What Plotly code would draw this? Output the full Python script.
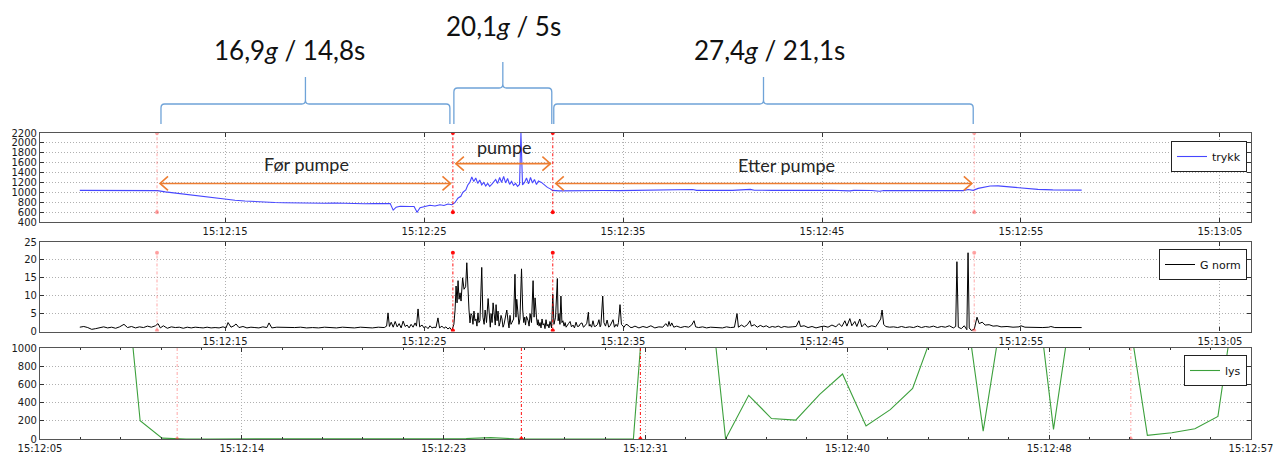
import plotly.graph_objects as go

# ---------------- data (time = seconds after 15:12:00) ----------------
TRYKK = [
    (7.7, 1040), (8.7, 1042), (9.7, 1043), (10.7, 1045), (11.3, 1040), (11.6, 1035),
    (12.0, 1010), (12.5, 985), (13.0, 960), (13.5, 935), (14.0, 905), (14.5, 880),
    (15.0, 860), (15.5, 840), (16.0, 825), (16.5, 810), (17.0, 800), (17.5, 795),
    (18.0, 790), (18.5, 785), (19.0, 782), (19.5, 790), (20.0, 780), (20.5, 785),
    (21.0, 778), (21.5, 782), (22.0, 770), (22.5, 775), (23.0, 768), (23.3, 772),
    (23.45, 640), (23.6, 700), (23.8, 720), (24.05, 710), (24.3, 715), (24.5, 712),
    (24.65, 597), (24.8, 690), (25.05, 720), (25.3, 740), (25.55, 725), (25.8, 750),
    (26.0, 735), (26.2, 765), (26.4, 750), (26.55, 790), (26.7, 880), (26.85, 920),
    (26.95, 1000), (27.1, 1050), (27.2, 1150), (27.3, 1200), (27.4, 1310), (27.5, 1220),
    (27.6, 1290), (27.7, 1180), (27.8, 1250), (27.9, 1150), (28.0, 1200), (28.1, 1130),
    (28.2, 1180), (28.3, 1120), (28.4, 1160), (28.5, 1210), (28.6, 1260), (28.7, 1180),
    (28.8, 1300), (28.9, 1200), (29.0, 1320), (29.1, 1190), (29.2, 1280), (29.3, 1160),
    (29.4, 1220), (29.5, 1140), (29.6, 1180), (29.7, 1120), (29.8, 1160), (29.87, 2200),
    (29.95, 1150), (30.05, 1200), (30.15, 1290), (30.25, 1170), (30.35, 1300), (30.45, 1190),
    (30.55, 1260), (30.65, 1160), (30.75, 1230), (30.9, 1200), (31.05, 1150), (31.2, 1100),
    (31.35, 1070), (31.45, 1040), (31.8, 1030), (32.5, 1035), (33.3, 1032), (34.0, 1038),
    (34.8, 1035), (35.5, 1040), (36.3, 1037), (37.0, 1040), (37.8, 1042), (38.5, 1058),
    (38.7, 1040), (39.5, 1042), (40.5, 1040), (41.4, 1060), (41.6, 1042), (42.5, 1040),
    (43.5, 1042), (44.5, 1040), (45.5, 1041), (46.4, 1030), (46.6, 1040), (47.5, 1038),
    (47.9, 1022), (48.1, 1038), (49.0, 1040), (50.0, 1042), (51.0, 1040), (51.8, 1045),
    (52.1, 1035), (52.35, 1058), (52.6, 1040), (52.85, 1080), (53.15, 1110), (53.45, 1128),
    (53.85, 1130), (54.35, 1110), (54.85, 1090), (55.35, 1072), (55.85, 1060), (56.6, 1050),
    (57.35, 1045), (58.05, 1045),
]

GNORM = [
    (7.7, 1.2), (7.9, 1.4), (8.1, 1.1), (8.3, 0.6), (8.5, 0.8), (8.7, 1.0), (8.9, 1.3),
    (9.1, 1.0), (9.3, 1.2), (9.5, 0.9), (9.7, 1.3), (9.92, 2.0), (10.1, 1.1), (10.3, 1.4),
    (10.5, 1.0), (10.7, 1.3), (10.9, 1.1), (11.1, 1.5), (11.3, 1.2), (11.5, 1.6), (11.63, 2.2),
    (11.75, 1.0), (11.9, 1.6), (12.1, 0.9), (12.3, 1.3), (12.5, 1.1), (12.7, 1.2), (12.9, 0.9),
    (13.1, 1.2), (13.3, 1.0), (13.5, 1.2), (13.7, 1.1), (13.9, 1.0), (14.1, 1.2), (14.3, 1.0),
    (14.5, 1.1), (14.7, 1.0), (14.9, 1.3), (15.05, 1.0), (15.15, 2.5), (15.3, 1.2), (15.45, 1.6),
    (15.55, 2.1), (15.7, 1.1), (15.9, 1.4), (16.1, 1.0), (16.3, 1.2), (16.5, 1.1), (16.7, 1.0),
    (16.9, 1.3), (17.1, 1.1), (17.21, 2.4), (17.35, 1.0), (17.6, 1.2), (17.9, 1.1), (18.2, 1.0),
    (18.5, 1.1), (18.8, 1.2), (19.1, 1.0), (19.4, 1.1), (19.7, 1.0), (20.0, 1.2), (20.3, 1.1),
    (20.6, 1.0), (20.9, 1.2), (21.2, 1.1), (21.5, 1.0), (21.8, 1.2), (22.1, 1.1), (22.4, 1.0),
    (22.7, 1.2), (23.0, 1.1),
    (23.12, 1.5), (23.19, 5.2), (23.26, 1.4), (23.35, 2.6), (23.45, 1.2), (23.55, 2.8),
    (23.65, 1.3), (23.75, 2.2), (23.85, 1.0), (23.95, 2.9), (24.05, 1.4), (24.15, 1.8),
    (24.25, 1.0), (24.35, 2.0), (24.45, 1.2), (24.55, 2.4), (24.62, 1.5), (24.7, 6.3),
    (24.78, 1.3), (24.9, 1.8), (25.0, 1.0), (25.1, 1.4), (25.2, 0.8), (25.3, 1.6), (25.4, 1.0),
    (25.5, 1.2), (25.6, 1.1), (25.7, 3.8), (25.78, 1.0), (25.9, 1.5), (26.0, 0.9), (26.1, 1.3),
    (26.2, 0.7), (26.3, 1.1), (26.4, 0.3), (26.5, 2.0),
    (26.56, 6.0), (26.61, 12.7), (26.66, 8.0), (26.71, 14.2), (26.76, 9.0), (26.81, 10.8),
    (26.86, 8.5), (26.94, 15.0), (27.01, 11.8), (27.09, 12.5), (27.15, 19.2), (27.21, 9.0),
    (27.26, 6.0), (27.31, 2.4), (27.36, 5.0), (27.41, 4.5), (27.46, 2.0), (27.51, 5.7),
    (27.56, 3.0), (27.61, 3.5), (27.66, 1.5), (27.71, 5.2), (27.76, 2.5), (27.81, 3.0),
    (27.9, 17.9), (27.96, 4.0), (28.02, 2.0), (28.07, 6.0), (28.14, 2.5), (28.22, 9.2),
    (28.29, 3.0), (28.33, 1.2), (28.37, 5.0), (28.42, 2.5), (28.47, 8.0), (28.54, 4.0),
    (28.58, 1.8), (28.62, 7.5), (28.67, 3.0), (28.72, 5.7), (28.77, 1.5), (28.82, 2.5),
    (28.87, 4.5), (28.92, 3.5), (28.97, 1.2), (29.02, 2.0), (29.08, 3.8), (29.16, 6.0),
    (29.22, 3.0), (29.27, 1.0), (29.32, 4.5), (29.37, 2.0), (29.42, 2.5), (29.5, 3.5),
    (29.57, 16.0), (29.62, 4.0), (29.66, 9.0), (29.72, 5.0), (29.77, 2.0), (29.82, 3.5),
    (29.9, 17.5), (29.96, 6.0), (30.01, 2.5), (30.06, 4.0), (30.1, 1.8), (30.15, 4.2),
    (30.23, 3.0), (30.28, 1.5), (30.33, 5.0), (30.4, 2.5), (30.48, 14.2), (30.53, 4.0),
    (30.58, 9.4), (30.65, 4.0), (30.7, 1.8), (30.73, 3.3), (30.78, 1.5), (30.83, 2.5),
    (30.88, 1.0), (30.93, 3.5), (30.98, 1.8), (31.03, 2.2), (31.08, 0.8), (31.13, 3.3),
    (31.18, 1.5), (31.23, 2.0), (31.28, 1.0), (31.33, 2.8), (31.41, 1.0), (31.47, 10.4),
    (31.53, 2.0), (31.61, 4.0), (31.7, 14.8), (31.74, 3.0), (31.78, 5.0), (31.83, 2.0),
    (31.88, 9.9), (31.93, 2.5), (31.98, 3.0), (32.04, 1.5), (32.09, 2.5), (32.14, 1.2),
    (32.19, 1.5), (32.26, 2.2), (32.34, 2.8), (32.41, 1.3), (32.49, 1.8), (32.56, 1.0),
    (32.64, 2.6), (32.71, 1.4), (32.79, 1.5), (32.86, 2.2), (32.94, 2.4), (33.01, 1.2),
    (33.09, 1.6), (33.18, 2.3), (33.26, 5.4), (33.3, 1.5), (33.34, 2.0), (33.42, 1.2),
    (33.49, 3.0), (33.56, 1.4), (33.64, 1.5), (33.72, 2.0), (33.79, 3.3), (33.85, 1.3),
    (33.89, 1.8), (33.98, 9.9), (34.04, 2.5), (34.12, 1.5), (34.2, 3.2), (34.28, 1.2),
    (34.35, 1.6), (34.42, 2.4), (34.5, 3.3), (34.57, 1.2), (34.65, 2.0), (34.72, 1.4),
    (34.77, 2.5), (34.85, 7.5), (34.92, 2.0), (35.0, 1.5), (35.05, 1.2), (35.15, 2.0),
    (35.25, 1.8), (35.35, 1.2), (35.45, 1.1),
    (35.6, 1.5), (35.8, 1.0), (36.0, 1.4), (36.2, 1.1), (36.4, 1.6), (36.6, 1.0), (36.8, 1.3),
    (37.0, 1.2), (37.15, 2.2), (37.25, 1.4), (37.31, 2.8), (37.38, 1.5), (37.45, 2.4),
    (37.55, 1.2), (37.7, 1.5), (37.9, 1.1), (38.1, 1.4), (38.3, 1.2), (38.45, 1.8), (38.57, 3.0),
    (38.65, 1.3), (38.8, 1.1), (39.0, 1.3), (39.2, 1.0), (39.4, 1.2), (39.6, 1.1), (39.8, 1.2),
    (40.0, 1.0), (40.2, 1.3), (40.4, 1.1), (40.6, 1.2), (40.73, 5.0), (40.8, 1.2), (40.95, 1.8),
    (41.1, 1.3), (41.25, 1.9), (41.38, 3.0), (41.45, 1.5), (41.6, 1.9), (41.75, 1.2), (41.9, 1.7),
    (42.05, 1.3), (42.2, 1.6), (42.35, 1.1), (42.5, 1.4), (42.65, 1.2), (42.8, 1.5), (42.95, 1.1),
    (43.1, 1.4), (43.3, 1.2), (43.5, 1.3), (43.7, 1.4), (43.84, 3.0), (43.92, 1.4), (44.1, 1.6),
    (44.3, 1.1), (44.5, 1.4), (44.7, 1.0), (44.9, 1.3), (45.1, 1.5), (45.3, 1.2), (45.5, 1.8),
    (45.7, 1.3), (45.85, 2.2), (46.0, 1.4), (46.15, 3.0), (46.25, 1.5), (46.4, 3.6), (46.5, 1.6),
    (46.65, 2.8), (46.75, 1.4), (46.9, 3.5), (47.0, 1.3), (47.15, 2.2), (47.3, 1.2), (47.5, 1.6),
    (47.7, 1.3), (47.85, 2.5), (47.95, 3.5), (48.02, 6.0), (48.1, 2.0), (48.2, 1.4), (48.4, 1.2),
    (48.6, 1.3), (48.8, 1.1), (49.0, 1.4), (49.2, 1.1), (49.4, 1.3), (49.6, 1.1), (49.8, 1.5),
    (50.0, 1.1), (50.2, 1.4), (50.4, 1.2), (50.6, 1.5), (50.8, 1.1), (51.0, 1.4), (51.2, 1.2),
    (51.4, 1.6), (51.6, 1.0), (51.72, 1.4), (51.78, 19.5), (51.85, 1.2), (52.0, 0.8),
    (52.15, 1.6), (52.28, 0.5), (52.34, 22.0), (52.4, 1.0), (52.5, 0.3), (52.65, 0.6),
    (52.79, 4.0), (52.9, 2.2), (53.05, 2.6), (53.2, 1.8), (53.4, 1.9), (53.6, 1.5), (53.8, 1.6),
    (54.0, 1.3), (54.3, 1.4), (54.6, 1.2), (54.9, 1.3), (55.0, 1.6), (55.2, 1.2), (55.5, 1.1),
    (55.8, 1.2), (56.1, 1.1), (56.4, 1.2), (56.5, 1.4), (56.7, 1.1), (57.0, 1.1), (57.4, 1.1),
    (57.8, 1.1), (58.05, 1.1),
]

LYS = [
    (6.3, 2500), (7.31, 2700), (8.31, 2800), (9.30, 200), (10.24, 10), (11.27, 0), (12.3, 0),
    (13.3, 0), (14.3, 0), (15.3, 0), (16.3, 0), (17.3, 0), (18.3, 0), (19.3, 0), (20.3, 0),
    (21.3, 0), (22.3, 0), (23.3, 5), (24.34, 15), (25.35, 3), (26.4, 0), (27.4, 0), (28.4, 0),
    (29.45, 0), (30.48, 0), (31.47, 3300), (32.45, 3000), (33.41, 2500), (34.44, 0),
    (35.43, 480), (36.41, 225), (37.45, 207), (38.48, 490), (39.46, 714), (40.47, 143),
    (41.51, 323), (42.47, 556), (43.5, 1280), (44.49, 1950), (45.5, 86), (46.51, 1713),
    (47.5, 2288), (48.52, 105), (49.52, 1843), (50.5, 2000), (51.54, 1711), (52.55, 40),
    (53.6, 68), (54.59, 113), (55.58, 248), (56.57, 1978),
]

EVENTS = [11.58, 26.45, 31.47, 52.65]          # phase boundaries, top two axes
EVENTS_LYS = [10.89, 25.67, 30.78, 51.84]      # same boundaries on the lys axis
EVENT_STRONG = [False, True, True, False]

TOP_TICKS = [15, 25, 35, 45, 55, 65]
TOP_TICKTEXT = ["15:12:15", "15:12:25", "15:12:35", "15:12:45", "15:12:55", "15:13:05"]
LYS_TICKS = [5, 13.667, 22.333, 31, 39.667, 48.333, 57]
LYS_TICKTEXT = ["15:12:05", "15:12:14", "15:12:23", "15:12:31", "15:12:40", "15:12:48", "15:12:57"]

PHASE_LABELS = ["Før pumpe", "pumpe", "Etter pumpe"]
PHASE_LABEL_POS = [(19.1, 1580), (29.05, 1920), (43.2, 1560)]
PHASE_ARROW_Y = [1180, 1580, 1180]
SUMMARY_LABELS = ["16,9<i>g</i> / 14,8s", "20,1<i>g</i> / 5s", "27,4<i>g</i> / 21,1s"]

# ---------------- layout helpers ----------------
W, H = 1275, 453


def py(p):
    return 1 - p / H


X_DOM = [40 / W, 1251 / W]
TICKFONT = dict(family="DejaVu Sans", size=10, color="#1a1a1a")

fig = go.Figure()

tt, tv = zip(*TRYKK)
gt, gv = zip(*GNORM)
lt, lv = zip(*LYS)

fig.add_trace(go.Scatter(x=tt, y=tv, mode="lines", name="trykk",
                         line=dict(color="rgb(70,70,255)", width=1.1),
                         xaxis="x", yaxis="y", legend="legend"))
fig.add_trace(go.Scatter(x=gt, y=gv, mode="lines", name="G norm",
                         line=dict(color="black", width=1),
                         xaxis="x2", yaxis="y2", legend="legend2"))
fig.add_trace(go.Scatter(x=lt, y=lv, mode="lines", name="lys",
                         line=dict(color="rgb(60,160,60)", width=1.1),
                         xaxis="x3", yaxis="y3", legend="legend3"))


def event_lines(evs, ymin, ymax, xa, ya):
    for e, strong in zip(evs, EVENT_STRONG):
        col = "rgba(255,0,0,0.95)" if strong else "rgba(255,60,60,0.45)"
        fig.add_trace(go.Scatter(
            x=[e, e], y=[ymin, ymax], mode="lines+markers", showlegend=False,
            line=dict(color=col, width=1, dash="3px,2px,1px,2px"),
            marker=dict(color=col, size=4), xaxis=xa, yaxis=ya, hoverinfo="skip"))


event_lines(EVENTS, min(tv), max(tv), "x", "y")
event_lines(EVENTS, min(gv), max(gv), "x2", "y2")
event_lines(EVENTS_LYS, min(lv), max(lv), "x3", "y3")

axis_common = dict(showline=True, mirror="allticks", linecolor="#555", linewidth=1.2,
                   ticks="inside", ticklen=4, tickcolor="#333", tickfont=TICKFONT,
                   showgrid=True, gridcolor="#b0b0b0", griddash="1px,2px", gridwidth=1,
                   zeroline=False, automargin=False)

fig.update_layout(
    width=W, height=H, margin=dict(l=0, r=0, t=0, b=0, autoexpand=False),
    paper_bgcolor="white", plot_bgcolor="white",
    xaxis=dict(domain=X_DOM, anchor="y", range=[5.70, 66.56], tickmode="array",
               tickvals=TOP_TICKS, ticktext=TOP_TICKTEXT, **axis_common),
    yaxis=dict(domain=[py(222), py(133)], anchor="x", range=[400, 2200], tickmode="array",
               tickvals=list(range(400, 2201, 200)), **axis_common),
    xaxis2=dict(domain=X_DOM, anchor="y2", range=[5.70, 66.56], tickmode="array",
                tickvals=TOP_TICKS, ticktext=TOP_TICKTEXT, **axis_common),
    yaxis2=dict(domain=[py(331.5), py(242)], anchor="x2", range=[0, 25], tickmode="array",
                tickvals=[0, 5, 10, 15, 20, 25], **axis_common),
    xaxis3=dict(domain=X_DOM, anchor="y3", range=[5, 57], tickmode="array",
                tickvals=LYS_TICKS, ticktext=LYS_TICKTEXT,
                minor=dict(ticks="inside", ticklen=2, tickcolor="#333", tick0=5,
                           dtick=52 / 30, showgrid=False),
                **axis_common),
    yaxis3=dict(domain=[py(439), py(348)], anchor="x3", range=[0, 1000], tickmode="array",
                tickvals=[0, 200, 400, 600, 800, 1000], **axis_common),
    showlegend=True,
)

legend_common = dict(xanchor="right", yanchor="top", bgcolor="white", bordercolor="#222",
                     borderwidth=1, font=dict(family="DejaVu Sans", size=11, color="#111"),
                     itemwidth=30, tracegroupgap=0)
fig.update_layout(
    legend=dict(x=1247 / W, y=py(141), **legend_common),
    legend2=dict(x=1247 / W, y=py(249), **legend_common),
    legend3=dict(x=1247 / W, y=py(355), **legend_common),
)

ORANGE = "#ED7D31"
shapes = []
annotations = []

# phase arrows inside the pressure panel
for i in range(3):
    a0 = EVENTS[i] + 0.15
    a1 = EVENTS[i + 1] - 0.12
    ya = PHASE_ARROW_Y[i]
    shapes.append(dict(type="line", xref="x", yref="y", x0=a0, x1=a1, y0=ya, y1=ya,
                       line=dict(color=ORANGE, width=1.6)))
    shapes.append(dict(type="path", xref="x", yref="y", xsizemode="pixel", ysizemode="pixel",
                       xanchor=a0, yanchor=ya, path="M 8,7 L 0,0 L 8,-7",
                       line=dict(color=ORANGE, width=1.6)))
    shapes.append(dict(type="path", xref="x", yref="y", xsizemode="pixel", ysizemode="pixel",
                       xanchor=a1, yanchor=ya, path="M -8,7 L 0,0 L -8,-7",
                       line=dict(color=ORANGE, width=1.6)))
    lx, ly = PHASE_LABEL_POS[i]
    annotations.append(dict(xref="x", yref="y", x=lx, y=ly, text=PHASE_LABELS[i],
                            xanchor="center", yanchor="middle", showarrow=False,
                            font=dict(family="Lato", size=18, color="#262626")))

# curly braces above the chart
BRACE_Y = [(104, 77), (88, 62), (104, 77)]
SUMMARY_Y = [50, 26, 50]
SUMMARY_X = [289, 503, 769]
for i in range(3):
    x0 = EVENTS[i] + (0.2 if i == 0 else 0.05)
    x1 = EVENTS[i + 1] - (0.15 if i == 0 else 0.05)
    xm = (x0 + x1) / 2
    rx = 0.18
    r = 4 / H
    yb = py(BRACE_Y[i][0])
    yt = py(BRACE_Y[i][1])
    ye = py(124)
    path = (f"M {x0},{ye} L {x0},{yb - r} Q {x0},{yb} {x0 + rx},{yb} L {xm - rx},{yb} "
            f"Q {xm},{yb} {xm},{yb + r} L {xm},{yt} "
            f"M {x1},{ye} L {x1},{yb - r} Q {x1},{yb} {x1 - rx},{yb} L {xm + rx},{yb} "
            f"Q {xm},{yb} {xm},{yb + r}")
    shapes.append(dict(type="path", xref="x", yref="paper", path=path,
                       line=dict(color="#6FA3D8", width=1.3)))
    annotations.append(dict(xref="paper", yref="paper", x=SUMMARY_X[i] / W, y=py(SUMMARY_Y[i]),
                            xanchor="center", yanchor="middle",
                            text=SUMMARY_LABELS[i], showarrow=False,
                            font=dict(family="Lato", size=26, color="#111")))

fig.update_layout(shapes=shapes, annotations=annotations)
fig.write_html("out.html", config={"displayModeBar": False},
               post_script="document.body.style.margin='0px';document.body.style.overflow='hidden';")
